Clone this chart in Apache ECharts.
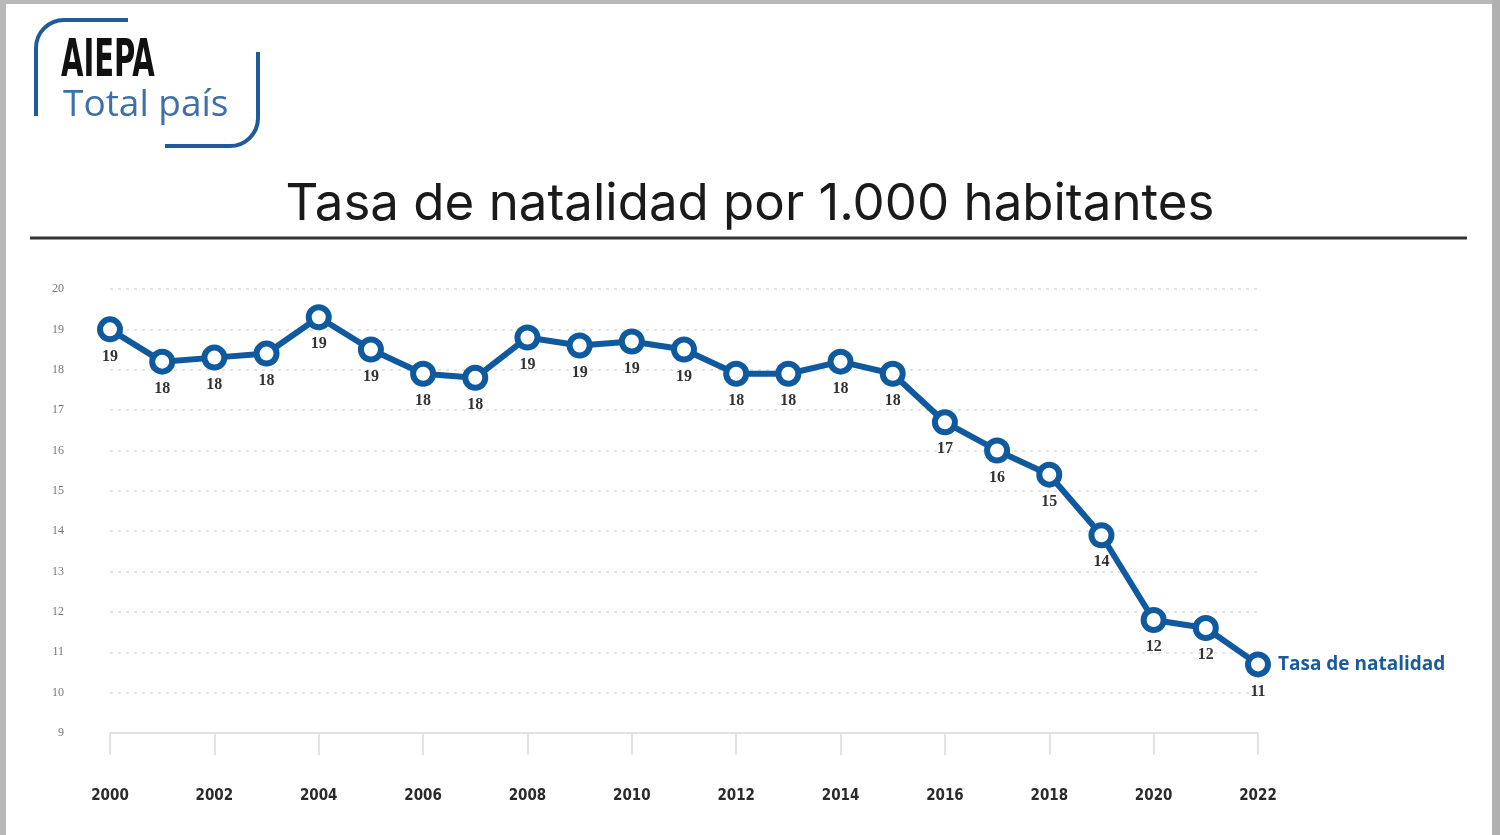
<!DOCTYPE html>
<html><head><meta charset="utf-8">
<script src="https://cdn.jsdelivr.net/npm/echarts@6/dist/echarts.min.js"></script>
<style>html,body{margin:0;padding:0;background:#fff}#c{width:1500px;height:835px}</style>
</head><body><div id="c"></div>
<script>
const years = ['2000','2001','2002','2003','2004','2005','2006','2007','2008','2009','2010','2011','2012','2013','2014','2015','2016','2017','2018','2019','2020','2021','2022'];
const natalidad = [19.0,18.2,18.3,18.4,19.3,18.5,17.9,17.8,18.8,18.6,18.7,18.5,17.9,17.9,18.2,17.9,16.7,16.0,15.4,13.9,11.8,11.6,10.7];
const seriesName = 'Tasa de natalidad';
const titleText = 'Tasa de natalidad por 1.000 habitantes';

const chart = echarts.init(document.getElementById('c'), null, {renderer:'canvas'});
const blue = '#0f5a9e';
const brk = {fill:null,stroke:'#1f5a9a',lineWidth:4};
chart.setOption({
  backgroundColor:'#fff',
  animation:false,
  title:{text:titleText,left:'center',top:174,
    textStyle:{fontFamily:'Inter',fontWeight:'normal',fontSize:51,color:'#1a1a1a'}},
  grid:{left:110,right:242,top:289,bottom:102},
  xAxis:{type:'category',data:years,boundaryGap:false,
    axisLine:{lineStyle:{color:'#e2e2e2',width:2}},
    axisTick:{show:true,interval:1,length:22,lineStyle:{color:'#e2e2e2',width:2}},
    axisLabel:{interval:1,margin:56,color:'#2a2a2a',fontWeight:'bold',fontSize:15,fontFamily:'DejaVu Sans Condensed'},
    splitLine:{show:false}},
  yAxis:{type:'value',min:9,max:20,interval:1,
    axisLine:{show:false},axisTick:{show:false},
    axisLabel:{margin:46,color:'#777',fontSize:12,fontFamily:'Liberation Serif'},
    splitLine:{lineStyle:{color:'#dcdcdc',type:[3,5],width:1.5}}},
  series:[{name:seriesName,type:'line',data:natalidad,
    lineStyle:{color:blue,width:6},
    symbol:'circle',symbolSize:20,
    itemStyle:{color:'#fff',borderColor:blue,borderWidth:6},
    label:{show:true,position:'bottom',distance:6,color:'#333',fontWeight:'bold',fontSize:16,fontFamily:'Liberation Serif',
      formatter:p=>Math.round(p.value)},
    endLabel:{show:true,formatter:'{a}',color:'#1a5b9c',fontWeight:'bold',fontSize:19,fontFamily:'Open Sans',distance:20}
  }],
  graphic:[
    {type:'rect',shape:{x:0,y:0,width:6,height:835},style:{fill:'#b8b8b8'}},
    {type:'rect',shape:{x:0,y:0,width:1500,height:4},style:{fill:'#b8b8b8'}},
    {type:'rect',shape:{x:1492,y:0,width:8,height:835},style:{fill:'#b0b0b0'}},
    {type:'line',shape:{x1:30,y1:238,x2:1467,y2:238},style:{stroke:'#333',lineWidth:3}},
    {type:'line',shape:{x1:36,y1:116,x2:36,y2:48},style:brk},
    {type:'arc',shape:{cx:64,cy:48,r:28,startAngle:Math.PI,endAngle:Math.PI*1.5,clockwise:true},style:brk},
    {type:'line',shape:{x1:64,y1:20,x2:128,y2:20},style:brk},
    {type:'line',shape:{x1:258,y1:52,x2:258,y2:118},style:brk},
    {type:'arc',shape:{cx:230,cy:118,r:28,startAngle:0,endAngle:Math.PI*0.5,clockwise:true},style:brk},
    {type:'line',shape:{x1:230,y1:146,x2:165,y2:146},style:brk},
    {type:'text',x:61,y:36,scaleX:0.62,style:{text:'AIEPA',font:'bold 52px "DejaVu Sans Condensed"',fill:'#111'}},
    {type:'text',x:63,y:87,style:{text:'Total país',font:'37px "Open Sans"',fill:'#3d6fa8'}}
  ]
});
</script></body></html>
